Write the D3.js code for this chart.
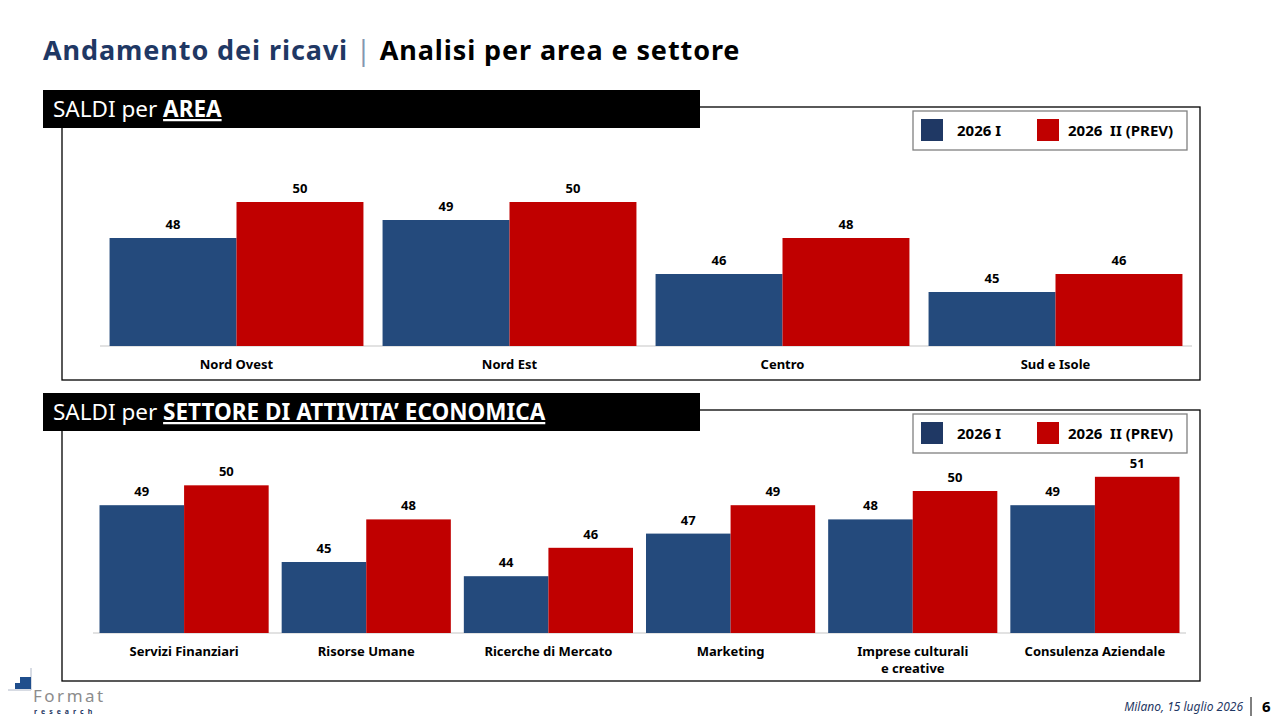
<!DOCTYPE html>
<html>
<head>
<meta charset="utf-8">
<script src="https://cdn.jsdelivr.net/npm/d3@7"></script>
<style>
  body { margin: 0; background: #fff; }
  svg { display: block; font-family: "Noto Sans", "DejaVu Sans", sans-serif; }
</style>
</head>
<body>
<script>
// data
var series = ['2026 I', '2026  II (PREV)'];
var colors = ['#244a7c', '#c00000'];

var areaCats = ['Nord Ovest', 'Nord Est', 'Centro', 'Sud e Isole'];
var areaI = [48, 49, 46, 45];
var areaII = [50, 50, 48, 46];

var settCats = ['Servizi Finanziari', 'Risorse Umane', 'Ricerche di Mercato', 'Marketing', 'Imprese culturali|e creative', 'Consulenza Aziendale'];
var settI = [49, 45, 44, 47, 48, 49];
var settII = [50.4, 48, 46, 49, 50, 51];

var W = 1280, H = 720;
var svg = d3.select('body').append('svg').attr('width', W).attr('height', H);
var fmt = d3.format('.0f');

// title
var title = svg.append('text').attr('x', 43).attr('y', 60)
  .style('font-size', '27px').style('font-weight', 'bold').style('letter-spacing', '0.9px');
title.append('tspan').attr('fill', '#1f3864').text('Andamento dei ricavi ');
title.append('tspan').attr('fill', '#8496b0').style('font-weight', 'normal').text('| ');
title.append('tspan').attr('fill', '#000').text('Analisi per area e settore');

function panel(opt) {
  var g = svg.append('g');
  // frame
  g.append('rect').attr('x', 62).attr('y', opt.boxTop).attr('width', 1138).attr('height', opt.boxH)
    .attr('fill', 'none').attr('stroke', '#000').attr('stroke-width', 1.3);
  // header bar
  g.append('rect').attr('x', 43).attr('y', opt.boxTop - 17).attr('width', 657).attr('height', 38).attr('fill', '#000');
  var ht = g.append('text').attr('x', 53).attr('y', opt.boxTop + 10)
    .attr('fill', '#fff').style('font-size', '22.5px');
  ht.append('tspan').text('SALDI per ');
  ht.append('tspan').style('font-weight', 'bold').style('text-decoration', 'underline').text(opt.header);

  // legend
  var lg = g.append('g').attr('transform', 'translate(913,' + (opt.boxTop + 4) + ')');
  lg.append('rect').attr('width', 274).attr('height', 39).attr('fill', '#fff').attr('stroke', '#808080').attr('stroke-width', 1.3);
  var li = lg.selectAll('g.li').data(series).enter().append('g').attr('class', 'li')
    .attr('transform', function (d, i) { return 'translate(' + (8 + i * 116) + ',8)'; });
  li.append('rect').attr('width', 22).attr('height', 22).attr('fill', function (d, i) { return i === 0 ? '#1f3864' : colors[1]; });
  li.append('text').attr('x', function (d, i) { return i === 0 ? 36 : 31; }).attr('y', 16.5)
    .style('font-size', '15px').style('font-weight', 'bold').style('white-space', 'pre').attr('xml:space', 'preserve')
    .text(function (d) { return d; });

  var x0 = d3.scaleBand().domain(opt.cats).range(opt.xr).paddingInner(opt.pad).paddingOuter(opt.pad / 2);
  var x1 = d3.scaleBand().domain([0, 1]).range([0, x0.bandwidth()]);
  var y = d3.scaleLinear().domain(opt.yd).range(opt.yr);

  // axis line
  g.append('line').attr('x1', opt.xr[0]).attr('x2', opt.xr[1]).attr('y1', y(opt.yd[0])).attr('y2', y(opt.yd[0]))
    .attr('stroke', '#d9d9d9').attr('stroke-width', 1.3);

  var rows = opt.cats.map(function (c, i) { return { cat: c, vals: [opt.a[i], opt.b[i]] }; });
  var grp = g.selectAll('g.grp').data(rows).enter().append('g').attr('class', 'grp')
    .attr('transform', function (d) { return 'translate(' + x0(d.cat) + ',0)'; });
  grp.selectAll('rect').data(function (d) { return d.vals; }).enter().append('rect')
    .attr('x', function (d, i) { return x1(i); })
    .attr('y', function (d) { return y(d); })
    .attr('width', x1.bandwidth())
    .attr('height', function (d) { return y(opt.yd[0]) - y(d); })
    .attr('fill', function (d, i) { return colors[i]; });
  grp.selectAll('text.val').data(function (d) { return d.vals; }).enter().append('text').attr('class', 'val')
    .attr('x', function (d, i) { return x1(i) + x1.bandwidth() / 2; })
    .attr('y', function (d) { return y(d) - 9; })
    .attr('text-anchor', 'middle').style('font-size', '13px').style('font-weight', 'bold')
    .text(function (d) { return fmt(d); });

  var cl = grp.append('text').attr('x', x0.bandwidth() / 2).attr('y', y(opt.yd[0]) + 23)
    .attr('text-anchor', 'middle').style('font-size', '13px').style('font-weight', 'bold');
  cl.selectAll('tspan').data(function (d) { return d.cat.split('|'); }).enter().append('tspan')
    .attr('x', x0.bandwidth() / 2).attr('dy', function (d, i) { return i === 0 ? 0 : 17; })
    .text(function (d) { return d; });
}

panel({ boxTop: 107, boxH: 273, header: 'AREA', cats: areaCats, a: areaI, b: areaII,
  xr: [100, 1192], pad: 0.07, yd: [42, 50], yr: [346, 202] });
panel({ boxTop: 410, boxH: 271, header: 'SETTORE DI ATTIVITA\u2019 ECONOMICA', cats: settCats, a: settI, b: settII,
  xr: [93, 1186], pad: 0.0714, yd: [40, 51], yr: [633, 476.8] });

// footer
svg.append('text').attr('x', 1243).attr('y', 711).attr('text-anchor', 'end')
  .attr('fill', '#1f3864').style('font-size', '12px').style('font-style', 'italic').text('Milano, 15 luglio 2026');
svg.append('line').attr('x1', 1251).attr('x2', 1251).attr('y1', 697).attr('y2', 716).attr('stroke', '#000');
svg.append('text').attr('x', 1262).attr('y', 712).style('font-size', '15px').style('font-weight', 'bold').text('6');

// logo
var logo = svg.append('g');
logo.append('line').attr('x1', 31).attr('x2', 31).attr('y1', 668).attr('y2', 690).attr('stroke', '#b0b8c8');
logo.append('line').attr('x1', 8).attr('x2', 31).attr('y1', 690).attr('y2', 690).attr('stroke', '#b0b8c8');
logo.append('rect').attr('x', 20).attr('y', 677).attr('width', 11).attr('height', 12).attr('fill', '#1f4e8c');
logo.append('rect').attr('x', 15).attr('y', 683).attr('width', 5).attr('height', 6).attr('fill', '#1f4e8c');
logo.append('text').attr('x', 33).attr('y', 702).attr('fill', '#8c8c8c').style('font-size', '17px')
  .style('letter-spacing', '2.5px').text('Format');
logo.append('text').attr('x', 34).attr('y', 714).attr('fill', '#1f3864').style('font-size', '7px').style('font-weight', 'bold')
  .style('letter-spacing', '4px').text('research');
</script>
</body>
</html>
